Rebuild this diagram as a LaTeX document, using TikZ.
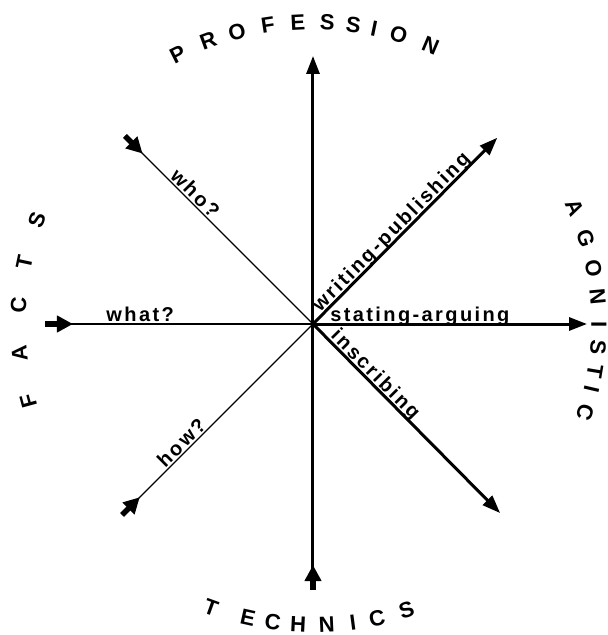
\documentclass[tikz,border=0pt]{standalone}
\usepackage{fontspec}
\setmainfont{Liberation Sans}
\newfontfamily\lblfamily{Liberation Sans}[LetterSpace=12]
\newcommand{\axisfont}{\lblfamily\bfseries\fontsize{20}{20}\selectfont}
\newcommand{\rimfont}{\bfseries\fontsize{22}{22}\selectfont}
\usetikzlibrary{arrows.meta}

\begin{document}
\begin{tikzpicture}[x=1pt, y=1pt,
    thickline/.style={line width=3pt},
    thinline/.style={line width=1.4pt},
    outarrow/.style={thickline, -{Triangle[length=18pt, width=13pt]}},
    inarrow/.style={line width=5.5pt, -{Triangle[length=16pt, width=16pt]}},
    axislabel/.style={font=\axisfont, inner sep=0pt, text depth=0pt, sloped, above=1.5pt},
    rimletter/.style={font=\rimfont, inner sep=0pt}
]
  \fill[white] (-313,-311) rectangle (295,324);
  \useasboundingbox (-313,-311) rectangle (295,324);

  % centre and outer ends of the eight axes
  \coordinate (c) at (0,0);
  \coordinate (prof) at (90:268);
  \coordinate (wp) at (45.3:262);
  \coordinate (sa) at (0:274);
  \coordinate (insc) at (-45.3:266);
  \coordinate (tech) at (-90:266);
  \coordinate (techtip) at (-90:241);
  \coordinate (how) at (-135:270);
  \coordinate (howtip) at (-135:245);
  \coordinate (what) at (180:268);
  \coordinate (whattip) at (180:240);
  \coordinate (who) at (135:266);
  \coordinate (whotip) at (135:241);

  % outgoing axes (right half)
  \draw[outarrow] (c) -- (prof);
  \draw[outarrow] (c) -- (wp) node[axislabel, pos=0.46] (wplabel) {writing-publishing};
  \draw[outarrow] (c) -- (sa) node[axislabel, pos=0.39] (salabel) {stating-arguing};
  \draw[outarrow] (c) -- (insc) node[axislabel, pos=0.30] (insclabel) {inscribing};

  % incoming axes (left half)
  \draw[thickline] (tech) -- (c);
  \draw[inarrow] (tech) -- (techtip);
  \draw[thinline] (who) -- (c) node[axislabel, pos=0.34] (wholabel) {who?};
  \draw[inarrow] (who) -- (whotip);
  \draw[thinline] (what) -- (c) node[axislabel, pos=0.355] (whatlabel) {what?};
  \draw[inarrow] (what) -- (whattip);
  \draw[thinline] (how) -- (c) node[axislabel, pos=0.345] (howlabel) {how?};
  \draw[inarrow] (how) -- (howtip);

  % lettering round the rim
  \foreach \l/\a [count=\i] in {P/116.6, R/110.3, O/104.6, F/98.6, E/92.9, S/87.3, S/82.3, I/78.3, O/73.5, N/67.1}
    \node[rimletter, rotate=\a-90] (profl\i) at (\a:302) {\l};
  \foreach \l/\a [count=\i] in {F/195.2, A/185.7, C/176.3, T/168.0, S/159.4}
    \node[rimletter, rotate=\a-90] (factl\i) at (\a:295) {\l};
  \foreach \l/\a [count=\i] in {A/23.9, G/17.5, O/11.3, N/5.4, I/-0.2, S/-4.6, T/-9.6, I/-13.1, C/-18}
    \node[rimletter, rotate=\a-90] (agonl\i) at (\a:286) {\l};
  \foreach \l/\a [count=\i] in {T/250.2, E/257.5, C/262.3, H/267.2, N/272.6, I/277.6, C/282.3, S/288.1}
    \node[rimletter, rotate=\a+90] (techl\i) at (\a:301) {\l};

\end{tikzpicture}
\end{document}
